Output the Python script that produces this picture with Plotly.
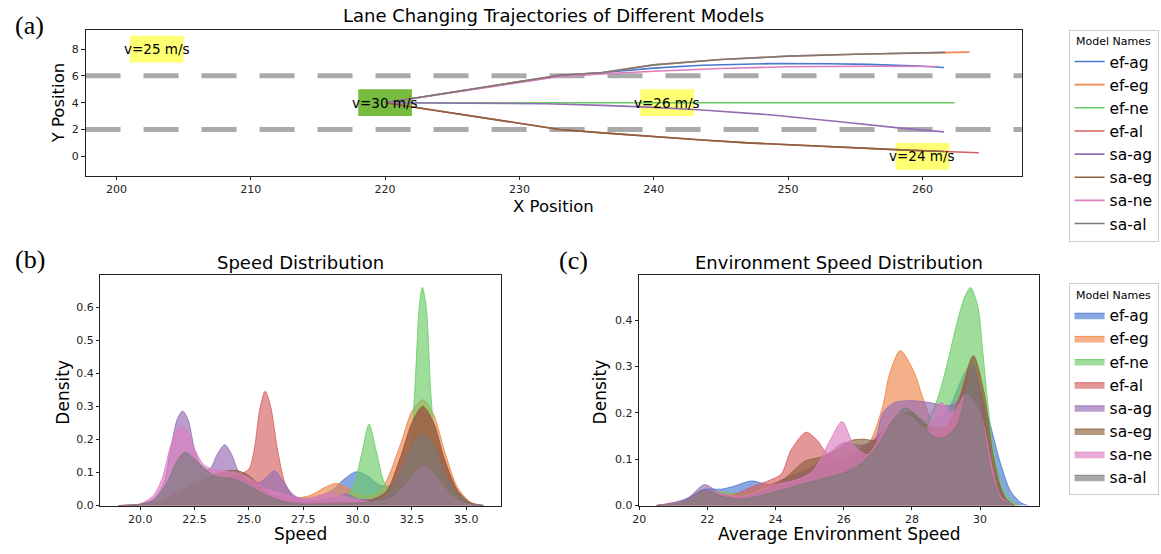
import plotly.graph_objects as go

W, H = 1161, 554

NAMES = ["ef-ag", "ef-eg", "ef-ne", "ef-al", "sa-ag", "sa-eg", "sa-ne", "sa-al"]
COLORS = ["#4878D0", "#EE854A", "#6ACC64", "#D65F5F", "#956CB4", "#8C613C", "#DC7EC0", "#797979"]

# ---------------- (a) trajectories ----------------
TRAJ_X = {
    "ef-ag": [220, 233, 236.2, 240, 243.6, 248.6, 253, 256, 259.7, 261.6],
    "ef-eg": [220, 233, 236.2, 240, 245, 250, 255, 258, 261.7, 263.5],
    "ef-ne": [220, 262.4],
    "ef-al": [220, 233, 236.2, 240, 243.6, 247, 251.1, 255, 258.4, 261.6, 264.2],
    "sa-ag": [220, 226, 232, 236.2, 240, 243.6, 248.6, 253.5, 258.4, 261.6],
    "sa-eg": [220, 233, 236.2, 240, 243.6, 247, 251.1, 255, 258.4, 261.6],
    "sa-ne": [220, 233, 236.2, 240, 245, 250, 256, 261.1],
    "sa-al": [220, 233, 236.2, 240, 245, 250, 255, 258, 261.7],
}
TRAJ_Y = {
    "ef-ag": [4.0, 6.0, 6.25, 6.58, 6.79, 6.91, 6.9, 6.86, 6.74, 6.62],
    "ef-eg": [4.0, 6.05, 6.25, 6.82, 7.22, 7.47, 7.61, 7.68, 7.75, 7.77],
    "ef-ne": [4.0, 4.0],
    "ef-al": [4.0, 2.0, 1.75, 1.45, 1.22, 1.0, 0.8, 0.62, 0.48, 0.36, 0.27],
    "sa-ag": [4.0, 3.98, 3.92, 3.8, 3.65, 3.45, 3.1, 2.62, 2.1, 1.82],
    "sa-eg": [4.0, 2.0, 1.75, 1.45, 1.22, 1.0, 0.8, 0.62, 0.48, 0.36],
    "sa-ne": [4.0, 5.95, 6.15, 6.35, 6.55, 6.68, 6.72, 6.7],
    "sa-al": [4.0, 6.05, 6.25, 6.82, 7.22, 7.47, 7.61, 7.68, 7.75],
}
LANE_Y = [2, 6]
SPEED_LABELS = ["v=25 m/s", "v=30 m/s", "v=26 m/s", "v=24 m/s"]
LABEL_X = [203, 220, 241, 260]
LABEL_Y = [8, 4, 4, 0]
LABEL_BOX = ["rgba(255,255,0,0.55)", "#77bc3f", "rgba(255,255,0,0.55)", "rgba(255,255,0,0.55)"]

# ---------------- (b) speed distribution ----------------
SPEED_X = {
    "ef-ag": [19.0, 20.0, 21.0, 22.0, 23.0, 24.0, 25.0, 26.0, 27.0, 28.0, 28.8, 29.3, 29.94, 30.5, 31.0, 31.5, 32.2, 32.6, 33.0, 33.5, 34.0, 34.6, 35.2, 35.8],
    "ef-eg": [19.0, 20.0, 21.0, 22.0, 23.0, 24.0, 25.0, 26.0, 27.0, 27.8, 28.5, 29.0, 29.5, 30.0, 30.6, 31.2, 32.0, 32.5, 33.0, 33.5, 34.0, 34.6, 35.2, 35.8],
    "ef-ne": [19.0, 20.0, 21.0, 22.0, 23.0, 24.0, 25.0, 26.0, 27.0, 28.0, 29.0, 29.6, 29.9, 30.22, 30.53, 30.86, 31.26, 31.6, 31.95, 32.25, 32.45, 32.62, 32.84, 32.98, 33.16, 33.38, 33.62, 33.9, 34.3, 34.8, 35.3, 35.8],
    "ef-al": [19.0, 20.0, 21.0, 22.0, 23.0, 24.0, 24.6, 25.0, 25.25, 25.5, 25.75, 26.0, 26.3, 26.65, 27.0, 27.5, 28.5, 29.5, 30.5, 31.3, 32.0, 32.5, 33.0, 33.5, 34.0, 34.6, 35.2, 35.8],
    "sa-ag": [19.0, 20.0, 20.6, 21.07, 21.4, 21.7, 21.95, 22.2, 22.52, 22.9, 23.2, 23.55, 23.89, 24.2, 24.57, 25.0, 25.5, 25.85, 26.18, 26.6, 27.0, 27.4, 28.0, 29.0, 29.5, 30.0, 31.0, 31.8, 32.5, 33.0, 33.5, 34.2, 35.0, 35.8],
    "sa-eg": [19.0, 20.0, 21.0, 22.0, 23.0, 23.5, 24.0, 24.5, 25.0, 25.5, 26.0, 26.5, 27.5, 29.0, 30.5, 31.3, 32.0, 32.5, 33.0, 33.5, 34.0, 34.6, 35.2, 35.8],
    "sa-ne": [19.0, 20.0, 20.6, 21.0, 21.4, 21.75, 21.95, 22.2, 22.5, 22.9, 23.3, 23.8, 24.3, 24.8, 25.3, 25.8, 26.3, 26.8, 27.3, 27.8, 28.4, 28.8, 29.3, 29.8, 30.5, 31.5, 32.3, 33.0, 33.7, 34.3, 35.0, 35.8],
    "sa-al": [19.0, 19.5, 20.0, 20.6, 21.2, 21.7, 22.06, 22.75, 23.4, 24.3, 25.0, 25.8, 26.7, 27.5, 29.0, 30.5, 31.3, 32.0, 32.5, 33.0, 33.5, 34.0, 34.6, 35.2, 35.8],
}
SPEED_D = {
    "ef-ag": [0, 0.002, 0.01, 0.03, 0.05, 0.05, 0.04, 0.03, 0.02, 0.025, 0.045, 0.075, 0.102, 0.088, 0.062, 0.06, 0.13, 0.21, 0.25, 0.21, 0.12, 0.04, 0.008, 0],
    "ef-eg": [0, 0.002, 0.01, 0.03, 0.05, 0.06, 0.045, 0.03, 0.022, 0.03, 0.055, 0.067, 0.055, 0.035, 0.03, 0.06, 0.19, 0.285, 0.32, 0.275, 0.165, 0.055, 0.01, 0],
    "ef-ne": [0, 0.001, 0.005, 0.01, 0.012, 0.012, 0.01, 0.008, 0.008, 0.01, 0.015, 0.035, 0.075, 0.165, 0.246, 0.165, 0.065, 0.045, 0.055, 0.11, 0.18, 0.33, 0.6, 0.66, 0.6, 0.33, 0.165, 0.09, 0.05, 0.02, 0.005, 0],
    "ef-al": [0, 0.002, 0.01, 0.03, 0.06, 0.085, 0.095, 0.11, 0.17, 0.29, 0.346, 0.3, 0.175, 0.07, 0.03, 0.015, 0.01, 0.012, 0.015, 0.04, 0.15, 0.245, 0.295, 0.245, 0.135, 0.045, 0.008, 0],
    "sa-ag": [0, 0.004, 0.02, 0.065, 0.17, 0.26, 0.286, 0.26, 0.165, 0.11, 0.11, 0.155, 0.184, 0.155, 0.095, 0.07, 0.07, 0.088, 0.105, 0.07, 0.035, 0.02, 0.015, 0.025, 0.035, 0.02, 0.02, 0.045, 0.09, 0.11, 0.09, 0.03, 0.005, 0],
    "sa-eg": [0, 0.003, 0.015, 0.05, 0.08, 0.095, 0.105, 0.105, 0.09, 0.06, 0.03, 0.015, 0.008, 0.01, 0.015, 0.04, 0.15, 0.25, 0.3, 0.25, 0.14, 0.045, 0.008, 0],
    "sa-ne": [0, 0.005, 0.03, 0.08, 0.18, 0.235, 0.24, 0.22, 0.17, 0.125, 0.11, 0.105, 0.1, 0.09, 0.07, 0.05, 0.04, 0.03, 0.02, 0.022, 0.033, 0.036, 0.03, 0.02, 0.012, 0.02, 0.07, 0.12, 0.08, 0.03, 0.005, 0],
    "sa-al": [0, 0.001, 0.004, 0.015, 0.065, 0.135, 0.161, 0.125, 0.09, 0.08, 0.06, 0.03, 0.01, 0.004, 0.005, 0.01, 0.03, 0.11, 0.18, 0.217, 0.18, 0.1, 0.035, 0.006, 0],
}
SPEED_TICKS = [20.0, 22.5, 25.0, 27.5, 30.0, 32.5, 35.0]
SPEED_DTICKS = [0.0, 0.1, 0.2, 0.3, 0.4, 0.5, 0.6]

# ---------------- (c) environment speed distribution ----------------
ENV_X = {
    "ef-ag": [20.5, 21.0, 21.4, 21.9, 22.4, 22.8, 23.3, 23.8, 24.3, 25.0, 26.0, 27.0, 27.8, 28.5, 29.0, 29.7, 30.2, 30.6, 30.9, 31.2, 31.4],
    "ef-eg": [20.5, 21.5, 22.0, 23.0, 24.0, 25.0, 26.0, 26.7, 27.13, 27.35, 27.66, 28.05, 28.36, 28.7, 29.1, 29.8, 30.2, 30.5, 30.8, 31.1],
    "ef-ne": [20.5, 21.3, 22.0, 23.0, 24.0, 25.0, 26.0, 27.0, 27.7, 28.3, 28.7, 29.0, 29.3, 29.55, 29.72, 29.93, 30.08, 30.22, 30.37, 30.56, 30.75, 31.04, 31.2],
    "ef-al": [20.5, 21.5, 22.0, 22.7, 23.3, 23.85, 24.17, 24.46, 24.9, 25.24, 25.45, 25.8, 26.3, 27.0, 27.7, 28.3, 28.8, 29.3, 29.8, 30.2, 30.5, 30.8, 31.0],
    "sa-ag": [20.5, 21.4, 21.92, 22.4, 22.9, 23.5, 24.2, 25.0, 25.6, 26.0, 26.5, 26.9, 27.15, 27.5, 28.0, 28.5, 29.0, 29.3, 29.75, 30.1, 30.4, 30.8, 31.0],
    "sa-eg": [20.5, 21.4, 21.9, 22.8, 23.5, 24.3, 24.85, 25.35, 25.8, 26.2, 26.6, 27.0, 27.5, 28.0, 28.5, 29.0, 29.4, 29.8, 30.1, 30.4, 30.7, 31.0],
    "sa-ne": [20.5, 21.4, 21.9, 23.0, 24.0, 24.6, 25.1, 25.6, 25.95, 26.3, 26.7, 27.2, 27.6, 28.0, 28.4, 28.85, 29.2, 29.6, 30.0, 30.3, 30.6, 31.0],
    "sa-al": [20.5, 21.3, 21.9, 22.5, 23.0, 23.5, 24.0, 24.5, 25.0, 25.5, 26.0, 26.5, 27.0, 27.4, 27.8, 28.2, 28.6, 28.9, 29.3, 29.6, 29.78, 30.0, 30.3, 30.6, 31.0],
}
ENV_D = {
    "ef-ag": [0, 0.003, 0.015, 0.035, 0.035, 0.042, 0.053, 0.045, 0.05, 0.07, 0.1, 0.15, 0.2, 0.18, 0.2, 0.3, 0.2, 0.09, 0.03, 0.006, 0],
    "ef-eg": [0, 0.01, 0.03, 0.025, 0.05, 0.08, 0.1, 0.13, 0.21, 0.285, 0.334, 0.29, 0.224, 0.17, 0.19, 0.32, 0.18, 0.05, 0.008, 0],
    "ef-ne": [0, 0.005, 0.03, 0.025, 0.045, 0.07, 0.09, 0.13, 0.17, 0.17, 0.22, 0.295, 0.387, 0.45, 0.47, 0.43, 0.33, 0.224, 0.13, 0.06, 0.025, 0.004, 0],
    "ef-al": [0, 0.01, 0.03, 0.022, 0.04, 0.055, 0.068, 0.12, 0.158, 0.139, 0.117, 0.1, 0.1, 0.15, 0.2, 0.16, 0.15, 0.2, 0.3, 0.15, 0.04, 0.005, 0],
    "sa-ag": [0, 0.015, 0.045, 0.025, 0.018, 0.028, 0.055, 0.08, 0.115, 0.135, 0.13, 0.14, 0.2, 0.222, 0.226, 0.222, 0.215, 0.222, 0.3, 0.22, 0.08, 0.01, 0],
    "sa-eg": [0, 0.01, 0.03, 0.018, 0.028, 0.06, 0.095, 0.105, 0.12, 0.14, 0.143, 0.14, 0.19, 0.2, 0.17, 0.17, 0.23, 0.323, 0.25, 0.1, 0.02, 0],
    "sa-ne": [0, 0.01, 0.03, 0.02, 0.045, 0.055, 0.075, 0.14, 0.181, 0.13, 0.11, 0.165, 0.2, 0.19, 0.165, 0.222, 0.2, 0.24, 0.2, 0.1, 0.02, 0],
    "sa-al": [0, 0.008, 0.033, 0.018, 0.014, 0.02, 0.03, 0.04, 0.05, 0.06, 0.07, 0.09, 0.13, 0.18, 0.21, 0.19, 0.15, 0.145, 0.17, 0.25, 0.31, 0.22, 0.08, 0.015, 0],
}
ENV_TICKS = [20, 22, 24, 26, 28, 30]
ENV_DTICKS = [0.0, 0.1, 0.2, 0.3, 0.4]

FONT = "DejaVu Sans"
FILL_ALPHA = 0.65


def rgba(hex_color, a):
    h = hex_color.lstrip("#")
    r, g, b = int(h[0:2], 16), int(h[2:4], 16), int(h[4:6], 16)
    return f"rgba({r},{g},{b},{a})"


def fx(px):
    return px / W


def fy(py):
    return 1 - py / H


fig = go.Figure()

# trajectories
for name, col in zip(NAMES, COLORS):
    fig.add_trace(go.Scatter(
        x=TRAJ_X[name], y=TRAJ_Y[name], mode="lines", name=name,
        line=dict(color=col, width=1.6), xaxis="x", yaxis="y",
        legend="legend", showlegend=True,
    ))

# speed KDE
for name, col in zip(NAMES, COLORS):
    fig.add_trace(go.Scatter(
        x=SPEED_X[name], y=SPEED_D[name], mode="lines", name=name,
        line=dict(color=rgba(col, 0.85), width=1, shape="spline", smoothing=0.8),
        fill="tozeroy", fillcolor=rgba(col, FILL_ALPHA),
        xaxis="x2", yaxis="y2", showlegend=False, legendgroup=name,
    ))

# environment KDE
for name, col in zip(NAMES, COLORS):
    fig.add_trace(go.Scatter(
        x=ENV_X[name], y=ENV_D[name], mode="lines", name=name,
        line=dict(color=rgba(col, 0.85), width=1, shape="spline", smoothing=0.8),
        fill="tozeroy", fillcolor=rgba(col, FILL_ALPHA),
        xaxis="x3", yaxis="y3", legend="legend2", showlegend=True, legendgroup=name,
    ))

axis_common = dict(
    showline=True, linecolor="#222", linewidth=1, mirror=True,
    ticks="outside", ticklen=3.5, tickwidth=1, tickcolor="#222",
    showgrid=False, zeroline=False,
    tickfont=dict(family=FONT, size=11, color="#222"),
)

shapes = []
for ly in LANE_Y:
    shapes.append(dict(type="line", xref="x domain", yref="y", x0=0, x1=1, y0=ly, y1=ly,
                       line=dict(color="#aaaaaa", width=5, dash="35px,23px"), layer="below"))
for lx, lyv, bc in zip(LABEL_X, LABEL_Y, LABEL_BOX):
    shapes.append(dict(type="rect", xref="x", yref="y", x0=lx - 2, x1=lx + 2, y0=lyv - 1, y1=lyv + 1,
                       fillcolor=bc, line=dict(width=0), layer="below"))

annotations = []
for txt, lx, lyv in zip(SPEED_LABELS, LABEL_X, LABEL_Y):
    annotations.append(dict(text=txt, x=lx, y=lyv, xref="x", yref="y", showarrow=False,
                            font=dict(family=FONT, size=13.5, color="black")))


def ann(text, x, y, size, angle=0, family=FONT):
    annotations.append(dict(text=text, x=fx(x), y=fy(y), xref="paper", yref="paper",
                            showarrow=False, textangle=angle, xanchor="center", yanchor="middle",
                            font=dict(family=family, size=size, color="black")))


ann("Lane Changing Trajectories of Different Models", 550, 16, 18)
ann("X Position", 550, 209, 16.5)
ann("Y Position", 52, 104, 16.5, angle=-90)
ann("Speed Distribution", 295.5, 266, 18)
ann("Speed", 295.5, 541, 17)
ann("Density", 56, 397, 17, angle=-90)
ann("Environment Speed Distribution", 837, 266, 18)
ann("Average Environment Speed", 837, 541, 17)
ann("Density", 597, 397, 17, angle=-90)
ann("(a)", 23, 26, 26, family="Liberation Serif")
ann("(b)", 23, 263, 26, family="Liberation Serif")
ann("(c)", 570, 264, 26, family="Liberation Serif")

legend_common = dict(
    xanchor="left", yanchor="top", bgcolor="white", bordercolor="#cccccc", borderwidth=1,
    font=dict(family=FONT, size=15.5, color="black"),
    title=dict(text="Model Names", font=dict(family=FONT, size=11, color="black"), side="top center"),
    itemwidth=30, tracegroupgap=0,
)

fig.update_layout(
    width=W, height=H, autosize=False,
    margin=dict(l=0, r=0, t=0, b=0),
    paper_bgcolor="white", plot_bgcolor="white",
    font=dict(family=FONT, color="black"),
    xaxis=dict(domain=[fx(79), fx(1021)], range=[197.7, 267.4], anchor="y",
               tickvals=[200, 210, 220, 230, 240, 250, 260], **axis_common),
    yaxis=dict(domain=[fy(178), fy(30)], range=[-1.45, 9.45], anchor="x",
               tickvals=[0, 2, 4, 6, 8], **axis_common),
    xaxis2=dict(domain=[fx(94), fx(497)], range=[18.17, 36.6], anchor="y2",
                tickvals=SPEED_TICKS, tickformat=".1f", **axis_common),
    yaxis2=dict(domain=[fy(512), fy(279)], range=[0, 0.696], anchor="x2",
                tickvals=SPEED_DTICKS, tickformat=".1f", **axis_common),
    xaxis3=dict(domain=[fx(636), fx(1038)], range=[20, 31.72], anchor="y3",
                tickvals=ENV_TICKS, **axis_common),
    yaxis3=dict(domain=[fy(512), fy(279)], range=[0, 0.496], anchor="x3",
                tickvals=ENV_DTICKS, tickformat=".1f", **axis_common),
    legend=dict(x=fx(1068), y=fy(30), **legend_common),
    legend2=dict(x=fx(1068), y=fy(287), **legend_common),
    shapes=shapes,
    annotations=annotations,
)

fig.write_html("out.html", config={"displayModeBar": False},
               post_script="document.body.style.margin='0';")
